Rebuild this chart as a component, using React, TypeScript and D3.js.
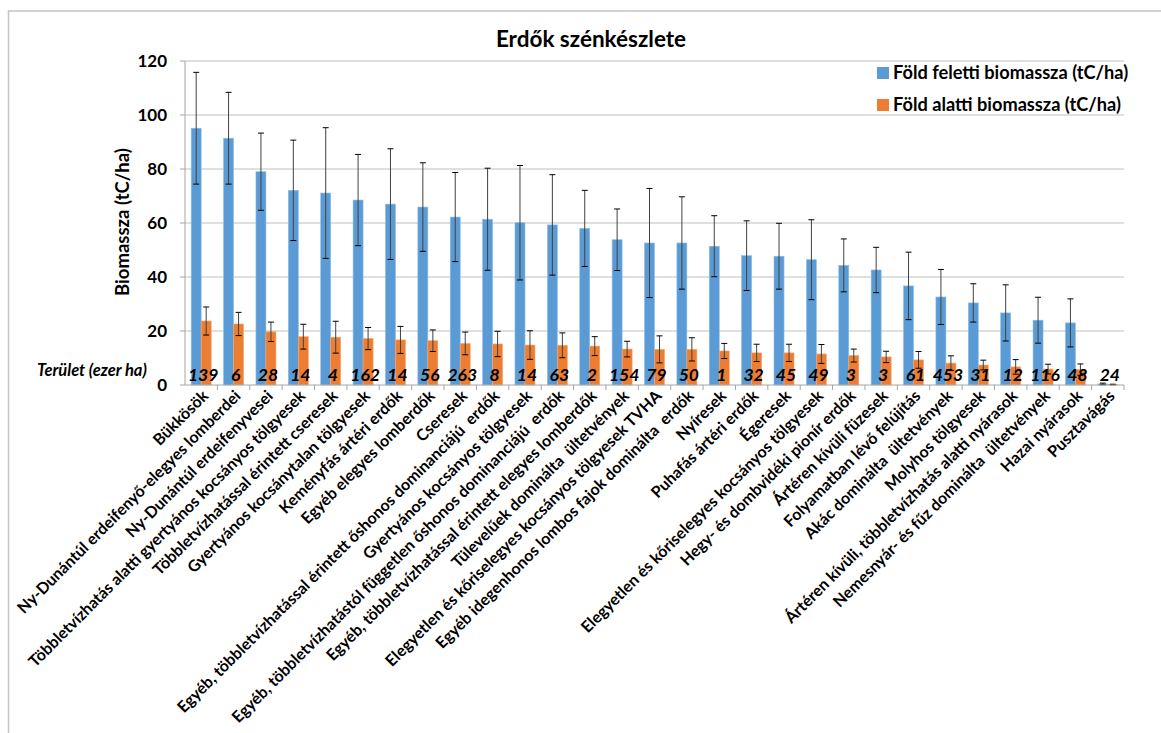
import React from "react";
import * as d3 from "d3";

const categories = [
  "Bükkösök",
  "Ny-Dunántúl erdeifenyő-elegyes lomberdei",
  "Ny-Dunántúl erdeifenyvesei",
  "Többletvízhatás alatti gyertyános kocsányos tölgyesek",
  "Többletvízhatással érintett cseresek",
  "Gyertyános kocsánytalan tölgyesek",
  "Keményfás ártéri erdők",
  "Egyéb elegyes lomberdők",
  "Cseresek",
  "Egyéb, többletvízhatással érintett őshonos dominanciájú  erdők",
  "Gyertyános kocsányos tölgyesek",
  "Egyéb, többletvízhatástól független őshonos dominanciájú  erdők",
  "Egyéb, többletvízhatással érintett elegyes lomberdők",
  "Tülevelűek dominálta  ültetvények",
  "Elegyetlen és kőriselegyes kocsányos tölgyesek TVHA",
  "Egyéb idegenhonos lombos fajok dominálta  erdők",
  "Nyíresek",
  "Puhafás ártéri erdők",
  "Égeresek",
  "Elegyetlen és kőriselegyes kocsányos tölgyesek",
  "Hegy- és dombvidéki pionír erdők",
  "Ártéren kívüli füzesek",
  "Folyamatban lévő felújítás",
  "Akác dominálta  ültetvények",
  "Molyhos tölgyesek",
  "Ártéren kívüli, többletvízhatás alatti nyárasok",
  "Nemesnyár- és fűz dominálta  ültetvények",
  "Hazai nyárasok",
  "Pusztavágás",
];

const aboveGround = [
  95.1, 91.4, 79.0, 72.1, 71.1, 68.5, 67.0, 65.9, 62.2, 61.4, 60.1, 59.3, 58.0,
  53.8, 52.6, 52.6, 51.4, 47.9, 47.7, 46.4, 44.3, 42.6, 36.7, 32.6, 30.4, 26.7,
  24.0, 23.0, 0.4,
];
const aboveGroundErr = [
  20.7, 17.0, 14.3, 18.6, 24.2, 16.9, 20.5, 16.4, 16.5, 18.9, 21.2, 18.6, 14.1,
  11.4, 20.2, 17.1, 11.3, 12.9, 12.2, 14.8, 9.8, 8.4, 12.5, 10.2, 7.1, 10.4,
  8.5, 8.9, 0.3,
];
const belowGround = [
  23.7, 22.6, 19.7, 17.9, 17.7, 17.2, 16.7, 16.4, 15.4, 15.2, 14.8, 14.7, 14.4,
  13.3, 13.2, 13.2, 12.6, 11.9, 11.9, 11.5, 10.9, 10.4, 9.3, 8.1, 7.4, 6.7, 5.9,
  5.7, 0.2,
];
const belowGroundErr = [
  5.2, 4.3, 3.6, 4.6, 5.9, 4.1, 5.0, 4.0, 4.2, 4.7, 5.3, 4.6, 3.5, 2.9, 5.0,
  4.3, 2.8, 3.2, 3.2, 3.5, 2.4, 2.1, 3.1, 2.7, 1.8, 2.7, 1.8, 2.1, 0.1,
];
const areaThousandHa = [
  139, 6, 28, 14, 4, 162, 14, 56, 263, 8, 14, 63, 2, 154, 79, 50, 1, 32, 45, 49,
  3, 3, 61, 453, 31, 12, 116, 48, 24,
];
const yTicks = [0, 20, 40, 60, 80, 100, 120];
const seriesNames = [
  "Föld feletti biomassza (tC/ha)",
  "Föld alatti biomassza (tC/ha)",
];
const seriesColors = ["#5b9bd5", "#ed7d31"];

const FONT = "Lato, 'Open Sans', sans-serif";

export default function App() {
  const W = 1161;
  const H = 733;
  const left = 185;
  const right = 1124;
  const top = 61;
  const bottom = 385;

  const x = d3
    .scaleBand<string>()
    .domain(categories)
    .range([left, right])
    .paddingInner(0)
    .paddingOuter(0);
  const y = d3.scaleLinear().domain([0, 120]).range([bottom, top]);
  const bw = x.bandwidth();
  const barW = 10;
  const groupOff = (bw - 2 * barW) / 2;

  const series = [
    { vals: aboveGround, errs: aboveGroundErr },
    { vals: belowGround, errs: belowGroundErr },
  ];

  return (
    <svg
      width={W}
      height={H}
      style={{ position: "absolute", left: 0, top: 0, display: "block", background: "#fff" }}
      fontFamily={FONT}
    >
      {/* chart frame */}
      <rect x={8.5} y={11} width={1200} height={800} fill="#fff" stroke="#c4c4c4" strokeWidth={1.5} />

      {/* title */}
      <text x={591} y={47} textAnchor="middle" fontSize={22.5} fontWeight="bold" fill="#000">
        Erdők szénkészlete
      </text>

      {/* gridlines */}
      {yTicks.filter((t) => t > 0).map((t) => (
        <line key={t} x1={left} x2={right} y1={y(t)} y2={y(t)} stroke="#bfbfbf" strokeWidth={1} />
      ))}

      {/* y axis */}
      <line x1={left} x2={left} y1={top} y2={bottom} stroke="#a6a6a6" />
      {yTicks.map((t) => (
        <g key={t}>
          <line x1={left - 5} x2={left} y1={y(t)} y2={y(t)} stroke="#a6a6a6" />
          <text x={167} y={y(t) + 6} textAnchor="end" fontSize={17} fontWeight="bold" fill="#000">
            {t}
          </text>
        </g>
      ))}
      <text
        transform={`translate(129, 222) rotate(-90)`}
        textAnchor="middle"
        fontSize={18.5}
        fontWeight="bold"
        fill="#000"
      >
        Biomassza (tC/ha)
      </text>

      {/* bars */}
      {series.map((s, si) =>
        categories.map((c, i) => {
          const bx = (x(c) as number) + groupOff + si * barW;
          const v = s.vals[i];
          return (
            <rect
              key={`${si}-${i}`}
              x={bx}
              y={y(v)}
              width={barW}
              height={bottom - y(v)}
              fill={seriesColors[si]}
              stroke={si === 0 ? "#8fbde6" : "#f4a777"}
              strokeWidth={0.6}
            />
          );
        })
      )}

      {/* error bars */}
      {series.map((s, si) =>
        categories.map((c, i) => {
          const cx = (x(c) as number) + groupOff + si * barW + barW / 2;
          const v = s.vals[i];
          const e = s.errs[i];
          const yHi = y(v + e);
          const yLo = y(Math.max(0, v - e));
          return (
            <g key={`e${si}-${i}`}>
              <line x1={cx} x2={cx} y1={yHi} y2={yLo} stroke="#404040" strokeWidth={1} />
              <line x1={cx - 3} x2={cx + 3} y1={yHi} y2={yHi} stroke="#000" strokeWidth={1} />
              <line x1={cx - 3} x2={cx + 3} y1={yLo} y2={yLo} stroke="#000" strokeWidth={1} />
            </g>
          );
        })
      )}

      {/* x axis */}
      <line x1={left} x2={right} y1={bottom} y2={bottom} stroke="#a6a6a6" />
      {categories.map((c, i) => (
        <line
          key={`t${i}`}
          x1={(x(c) as number) + bw}
          x2={(x(c) as number) + bw}
          y1={bottom}
          y2={bottom + 5}
          stroke="#a6a6a6"
        />
      ))}

      {/* area labels */}
      <text x={37} y={376} fontSize={16.5} fontWeight="bold" fontStyle="italic" fill="#000">
        Terület (ezer ha)
      </text>
      {categories.map((c, i) => (
        <text
          key={`a${i}`}
          x={(x(c) as number) + bw / 2 + 2}
          y={381}
          textAnchor="middle"
          fontSize={17.5}
          fontWeight="bold"
          fontStyle="italic"
          fill="#000"
        >
          {areaThousandHa[i]}
        </text>
      ))}

      {/* category labels */}
      {categories.map((c, i) => (
        <text
          key={`c${i}`}
          transform={`translate(${(x(c) as number) + bw / 2 + 8}, ${bottom + 12}) rotate(-45)`}
          textAnchor="end"
          fontSize={16}
          fontWeight="bold"
          fill="#000"
          style={{ whiteSpace: "pre" }}
        >
          {c}
        </text>
      ))}

      {/* legend */}
      {seriesNames.map((n, i) => (
        <g key={n} transform={`translate(877, ${73 + i * 32})`}>
          <rect x={0} y={-6} width={12} height={12} fill={seriesColors[i]} />
          <text x={16} y={6} fontSize={18.2} fontWeight="bold" fill="#000">
            {n}
          </text>
        </g>
      ))}
    </svg>
  );
}
